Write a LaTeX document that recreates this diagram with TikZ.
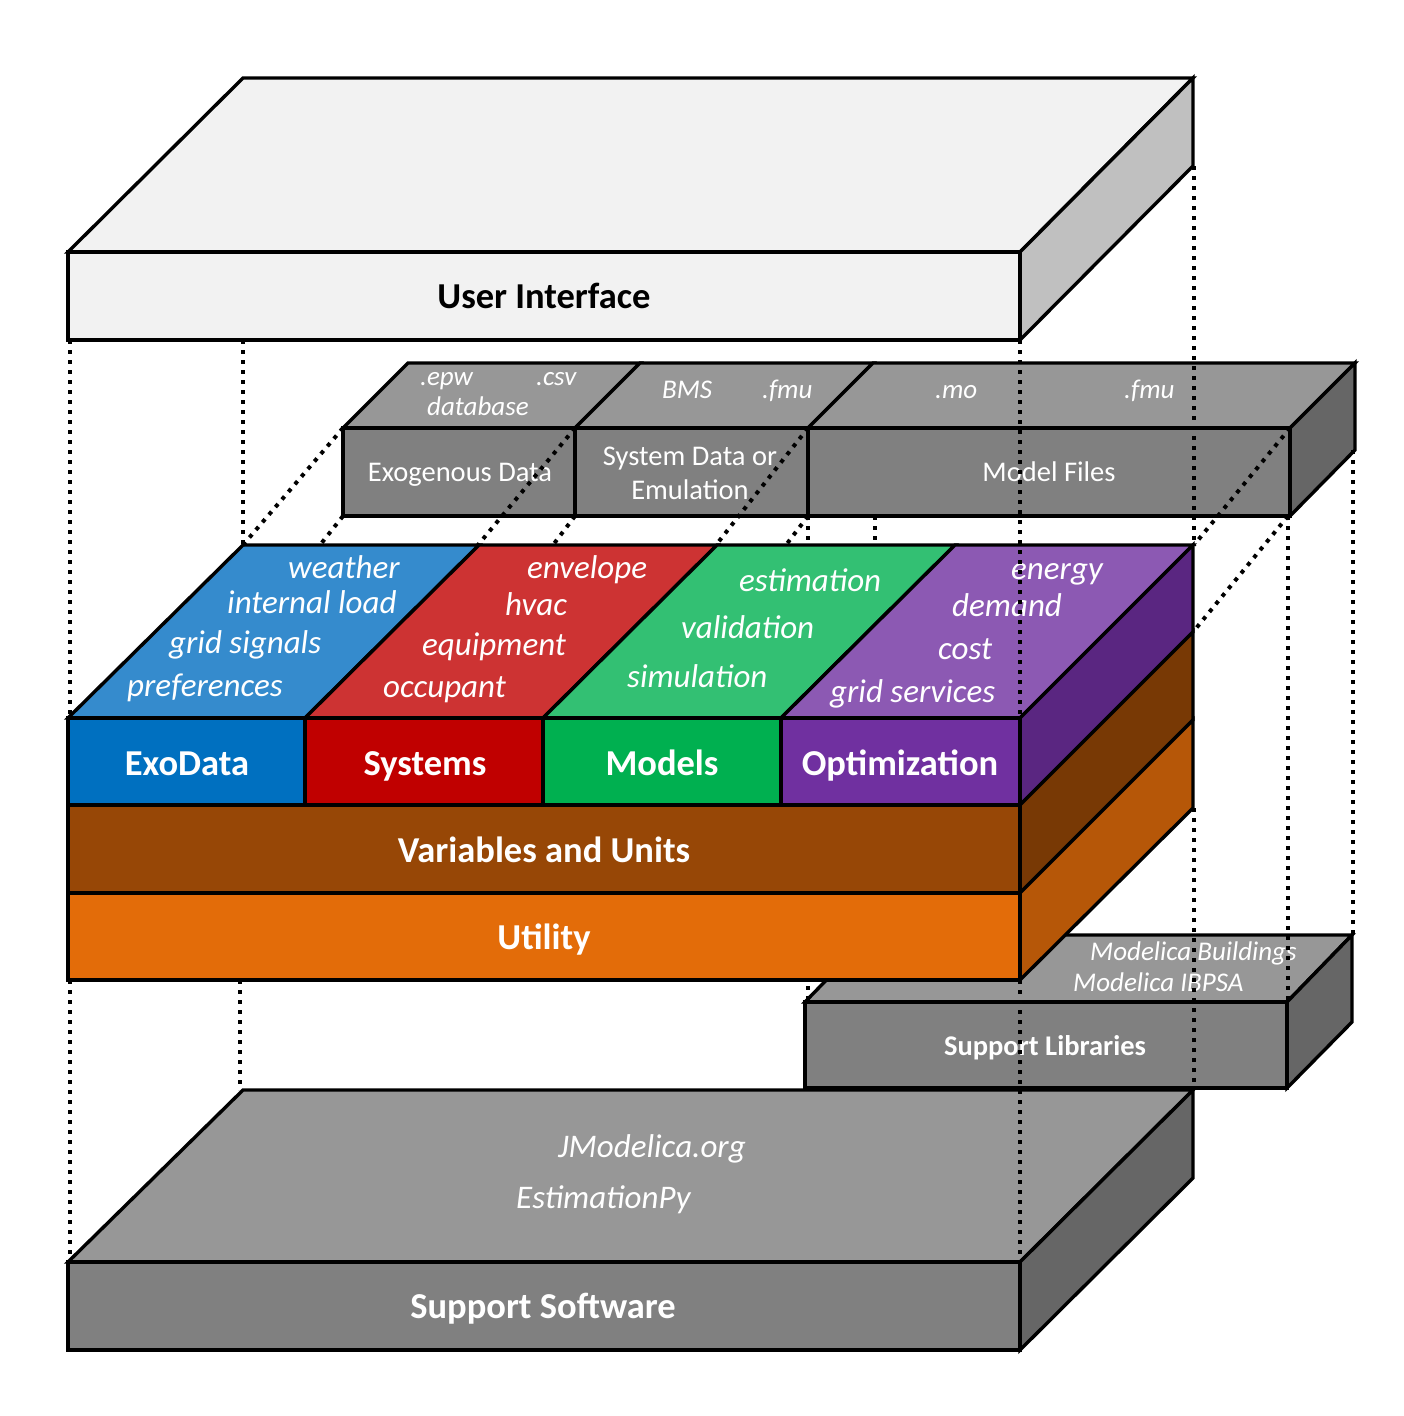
\documentclass[tikz,border=0pt]{standalone}
\usepackage{fontspec}
\setmainfont{Carlito}
\definecolor{uilight}{HTML}{F2F2F2}
\definecolor{uiside}{HTML}{C0C0C0}
\definecolor{gtop}{HTML}{979797}
\definecolor{gfront}{HTML}{808080}
\definecolor{gside}{HTML}{666666}
\definecolor{bfront}{HTML}{0070C0}
\definecolor{btop}{HTML}{358BCD}
\definecolor{rfront}{HTML}{C00000}
\definecolor{rtop}{HTML}{CD3333}
\definecolor{gnfront}{HTML}{00B050}
\definecolor{gntop}{HTML}{33C073}
\definecolor{pfront}{HTML}{7030A0}
\definecolor{ptop}{HTML}{8C59B3}
\definecolor{pside}{HTML}{5A2681}
\definecolor{vfront}{HTML}{974706}
\definecolor{vside}{HTML}{783905}
\definecolor{ofront}{HTML}{E36C09}
\definecolor{oside}{HTML}{B65708}
\begin{document}
\begin{tikzpicture}[x=1pt,y=-1pt,
  face/.style={draw=black,line width=3.4pt,line join=miter},
  dots/.style={draw=black,line width=4pt,dash pattern=on 4pt off 6pt},
  big/.style={text=white,font=\fontsize{36.5}{40}\selectfont\bfseries,anchor=base,inner sep=0pt},
  mid/.style={text=white,font=\fontsize{28.5}{32}\selectfont\bfseries,anchor=base,inner sep=0pt},
  itl/.style={text=white,font=\fontsize{33}{36}\selectfont\itshape,anchor=base west,inner sep=0pt},
  sml/.style={text=white,font=\fontsize{27}{30}\selectfont\itshape,anchor=base west,inner sep=0pt},
  reg/.style={text=white,font=\fontsize{28.5}{34}\selectfont,anchor=base,inner sep=0pt}]
\fill[white] (0,0) rectangle (1404,1416);
\useasboundingbox (0,0) rectangle (1404,1416);

% ---------- User Interface ----------
\filldraw[face,fill=uilight] (68,252) -- (243,78) -- (1193,78) -- (1020,252) -- cycle;
\filldraw[face,fill=uiside] (1020,252) -- (1193,78) -- (1193,166) -- (1020,340) -- cycle;
\filldraw[face,fill=uilight] (68,252) rectangle (1020,340);
\node[big,text=black] (ui) at (544,308) {User Interface};

% ---------- Support Software ----------
\filldraw[face,fill=gtop] (68,1262) -- (243,1090) -- (1193,1090) -- (1020,1262) -- cycle;
\filldraw[face,fill=gside] (1020,1262) -- (1193,1090) -- (1193,1178) -- (1020,1350) -- cycle;
\filldraw[face,fill=gfront] (68,1262) rectangle (1020,1350);
\node[sml,font=\fontsize{33}{36}\selectfont\itshape] (jm) at (558,1157) {JModelica.org};
\node[sml,font=\fontsize{33}{36}\selectfont\itshape] (ep) at (516,1208) {EstimationPy};
\node[big] (ss) at (543,1318) {Support Software};

% ---------- Support Libraries ----------
\filldraw[face,fill=gtop] (805,1002) -- (870,935) -- (1352,935) -- (1287,1002) -- cycle;
\filldraw[face,fill=gside] (1287,1002) -- (1352,935) -- (1352,1022) -- (1287,1088) -- cycle;
\filldraw[face,fill=gfront] (805,1002) rectangle (1287,1088);
\node[sml] (mb) at (1090,960) {Modelica Buildings};
\node[sml] (mi) at (1073,991) {Modelica IBPSA};
\node[mid] (sl) at (1045,1055) {Support Libraries};

% ---------- corner coordinates ----------
\coordinate (ui1) at (70,340);   \coordinate (st1) at (70,718);
\coordinate (ui2) at (243,340);  \coordinate (st2) at (243,545);
\coordinate (ui3) at (1020,340); \coordinate (st3) at (1020,718);
\coordinate (ui4) at (1194,166); \coordinate (st4) at (1194,545);
\coordinate (ex1) at (343,428);  \coordinate (ex2) at (343,516);
\coordinate (ex3) at (575,428);  \coordinate (ex4) at (575,516);
\coordinate (sy3) at (808,428);  \coordinate (sy4) at (808,516);
\coordinate (mf5) at (875,516);
\coordinate (mf3) at (1290,428); \coordinate (mf4) at (1288,516);
\coordinate (mf6) at (1353,450);
\coordinate (bk2) at (320,545);  \coordinate (bk3) at (478,545);
\coordinate (bk4) at (553,545);  \coordinate (bk5) at (716,545);
\coordinate (bk6) at (786,545);  \coordinate (sd2) at (1193,632);
\coordinate (lo1) at (70,980);   \coordinate (sw1) at (70,1262);
\coordinate (lo2) at (240,980);  \coordinate (sw2) at (240,1090);
\coordinate (lo3) at (1020,980); \coordinate (sw3) at (1020,1262);
\coordinate (lo4) at (1194,808); \coordinate (sw4) at (1194,1090);
\coordinate (sl1) at (808,1002); \coordinate (sl2) at (875,935);
\coordinate (sl3) at (1288,1002); \coordinate (sl4) at (1353,935);

% hidden projection lines (behind the stack)
\draw[dots] (sy4) -- (sl1);
\draw[dots] (mf5) -- (sl2);

% ---------- data boxes ----------
\filldraw[face,fill=gtop] (343,428) -- (408,363) -- (640,363) -- (575,428) -- cycle;
\filldraw[face,fill=gtop] (575,428) -- (640,363) -- (873,363) -- (808,428) -- cycle;
\filldraw[face,fill=gtop] (808,428) -- (873,363) -- (1355,363) -- (1290,428) -- cycle;
\filldraw[face,fill=gside] (1290,428) -- (1355,363) -- (1355,450) -- (1290,516) -- cycle;
\filldraw[face,fill=gfront] (343,428) rectangle (575,516);
\filldraw[face,fill=gfront] (575,428) rectangle (808,516);
\filldraw[face,fill=gfront] (808,428) rectangle (1290,516);
\node[sml] (epw) at (420,385) {.epw};
\node[sml] (csv) at (536,385) {.csv};
\node[sml] (db) at (427,415) {database};
\node[sml] (bms) at (662,398) {BMS};
\node[sml] (fmu1) at (762,398) {.fmu};
\node[sml] (mo) at (935,398) {.mo};
\node[sml] (fmu2) at (1124,398) {.fmu};
\node[reg] (exo) at (460,481) {Exogenous Data};
\node[reg] (sys1) at (690,465) {System Data or};
\node[reg] (sys2) at (690,499) {Emulation};
\node[reg] (mfl) at (1049,481) {Model Files};

% ---------- main stack ----------
\filldraw[face,fill=btop] (68,718) -- (243,545) -- (479,545) -- (305,718) -- cycle;
\filldraw[face,fill=rtop] (305,718) -- (479,545) -- (717,545) -- (543,718) -- cycle;
\filldraw[face,fill=gntop] (543,718) -- (717,545) -- (955,545) -- (781,718) -- cycle;
\filldraw[face,fill=ptop] (781,718) -- (955,545) -- (1193,545) -- (1020,718) -- cycle;
\filldraw[face,fill=pside] (1020,718) -- (1193,545) -- (1193,632) -- (1020,805) -- cycle;
\filldraw[face,fill=vside] (1020,805) -- (1193,632) -- (1193,720) -- (1020,893) -- cycle;
\filldraw[face,fill=oside] (1020,893) -- (1193,720) -- (1193,808) -- (1020,980) -- cycle;
\filldraw[face,fill=bfront] (68,718) rectangle (305,805);
\filldraw[face,fill=rfront] (305,718) rectangle (543,805);
\filldraw[face,fill=gnfront] (543,718) rectangle (781,805);
\filldraw[face,fill=pfront] (781,718) rectangle (1020,805);
\filldraw[face,fill=vfront] (68,805) rectangle (1020,893);
\filldraw[face,fill=ofront] (68,893) rectangle (1020,980);

\node[itl] (w1) at (288,578) {weather};
\node[itl] (w2) at (227,613) {internal load};
\node[itl] (w3) at (169,653) {grid signals};
\node[itl] (w4) at (127,696) {preferences};
\node[itl] (r1) at (527,578) {envelope};
\node[itl] (r2) at (505,615) {hvac};
\node[itl] (r3) at (422,655) {equipment};
\node[itl] (r4) at (383,697) {occupant};
\node[itl] (g1) at (739,591) {estimation};
\node[itl] (g2) at (681,638) {validation};
\node[itl] (g3) at (627,687) {simulation};
\node[itl] (p1) at (1011,579) {energy};
\node[itl] (p2) at (952,616) {demand};
\node[itl] (p3) at (938,659) {cost};
\node[itl] (p4) at (830,702) {grid services};

\node[big] (exd) at (187,775) {ExoData};
\node[big] (sysl) at (425,775) {Systems};
\node[big] (mod) at (662,775) {Models};
\node[big] (opt) at (900,775) {Optimization};
\node[big] (var) at (544,862) {Variables and Units};
\node[big] (utl) at (544,949) {Utility};

% ---------- visible projection lines ----------
\draw[dots] (ui1) -- (st1);
\draw[dots] (ui2) -- (st2);
\draw[dots] (ui3) -- (st3);
\draw[dots] (ui4) -- (st4);
\draw[dots] (ex1) -- (st2);
\draw[dots] (ex2) -- (bk2);
\draw[dots] (ex3) -- (bk3);
\draw[dots] (ex4) -- (bk4);
\draw[dots] (sy3) -- (bk5);
\draw[dots] (sy4) -- (bk6);
\draw[dots] (mf3) -- (st4);
\draw[dots] (mf4) -- (sd2);
\draw[dots] (mf4) -- (sl3);
\draw[dots] (mf6) -- (sl4);
\draw[dots] (lo1) -- (sw1);
\draw[dots] (lo2) -- (sw2);
\draw[dots] (lo3) -- (sw3);
\draw[dots] (lo4) -- (sw4);
\end{tikzpicture}
\end{document}
